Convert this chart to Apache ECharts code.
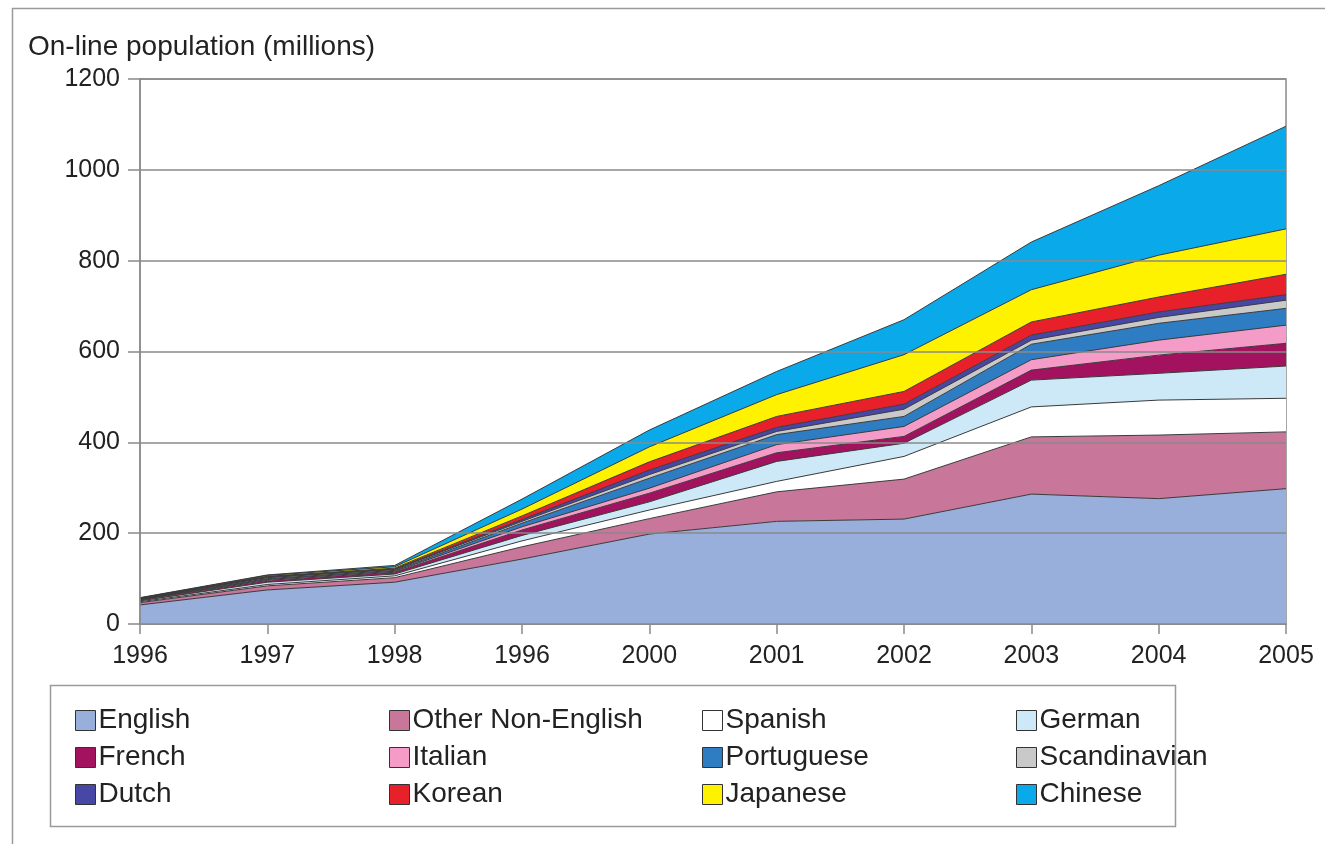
<!DOCTYPE html>
<html>
<head>
<meta charset="utf-8">
<script src="https://cdn.jsdelivr.net/npm/echarts@6/dist/echarts.min.js"></script>
<style>
html,body{margin:0;padding:0;background:#fff;}
#chart{width:1325px;height:844px;}
</style>
</head>
<body>
<div id="chart"></div>
<script>
// Category labels (as printed in the source, including the repeated "1996")
const years = ['1996','1997','1998','1996','2000','2001','2002','2003','2004','2005'];
const yTicks = [0, 200, 400, 600, 800, 1000, 1200];

// Online population by language (millions), stacked
const english       = [42, 75, 92, 143, 198, 226, 231, 286, 276, 298];
const otherNonEng   = [5, 9, 10, 27, 34, 65, 88, 126, 140, 125];
const spanish       = [2, 3, 4, 13, 19, 23, 50, 66, 77, 74];
const german        = [2, 5, 4, 12, 18, 44, 29, 59, 59, 71];
const french        = [2, 4, 4, 12, 19, 19, 15, 22, 40, 50];
const italian       = [1, 2, 2, 7, 11, 18, 22, 23, 33, 40];
const portuguese    = [1, 2, 2, 8, 22, 22, 22, 34, 37, 37];
const scandinavian  = [1, 2, 2, 4, 8, 7, 16, 9, 13, 18];
const dutch         = [0.5, 2, 1, 4, 10, 9, 11, 11, 12, 12];
const korean        = [0.5, 1, 2, 8, 18, 24, 28, 29, 33, 45];
const japanese      = [0.5, 2, 3, 15, 33, 48, 81, 71, 92, 100];
const chinese       = [0.5, 1, 3, 22, 37, 51, 77, 105, 153, 226];

const seriesNames = ['English','Other Non-English','Spanish','German','French','Italian','Portuguese','Scandinavian','Dutch','Korean','Japanese','Chinese'];
const seriesData = [english, otherNonEng, spanish, german, french, italian, portuguese, scandinavian, dutch, korean, japanese, chinese];
const seriesColors = ['#98aedb','#c87699','#ffffff','#cde9f8','#a3125e','#f49bc8','#2e7dc3','#c9c9c9','#4747a6','#e8202a','#fff200','#0aa9e9'];

const FONT = "'Liberation Sans', Arial, sans-serif";
const chart = echarts.init(document.getElementById('chart'));

const series = seriesNames.map((name, i) => ({
  name: name,
  type: 'line',
  stack: 'total',
  data: seriesData[i],
  symbol: 'none',
  smooth: false,
  z: 2,
  itemStyle: { color: seriesColors[i] },
  lineStyle: { color: '#3a3a3a', width: 1 },
  areaStyle: { color: seriesColors[i], opacity: 1 },
  emphasis: { disabled: true }
}));

function legendCol(names, left) {
  return {
    data: names,
    orient: 'vertical',
    left: left,
    top: 701,
    icon: 'rect',
    itemWidth: 20,
    itemHeight: 20,
    itemGap: 8,
    selectedMode: false,
    textStyle: { fontFamily: FONT, fontSize: 28, color: '#222', lineHeight: 29, padding: [0,0,0,-2] },
    itemStyle: { borderColor: '#333', borderWidth: 1 }
  };
}

chart.setOption({
  animation: false,
  backgroundColor: '#fff',
  title: {
    text: 'On-line population (millions)',
    left: 23,
    top: 28,
    textStyle: { fontFamily: FONT, fontSize: 28, fontWeight: 'normal', color: '#222' }
  },
  grid: {
    left: 140, right: 39, top: 79, bottom: 220,
    show: true, borderColor: '#8a8a8a', borderWidth: 1.5, backgroundColor: 'transparent'
  },
  legend: [
    legendCol(['English','French','Dutch'], 70),
    legendCol(['Other Non-English','Italian','Korean'], 384),
    legendCol(['Spanish','Portuguese','Japanese'], 697),
    legendCol(['German','Scandinavian','Chinese'], 1011)
  ],
  xAxis: {
    type: 'category',
    data: years,
    boundaryGap: false,
    axisLine: { show: true, lineStyle: { color: '#8a8a8a', width: 1.5 } },
    axisTick: { show: true, length: 10, alignWithLabel: true, lineStyle: { color: '#8a8a8a', width: 1.5 } },
    axisLabel: { interval: 0, fontFamily: FONT, fontSize: 25, color: '#222', margin: 20 },
    splitLine: { show: false }
  },
  yAxis: {
    type: 'value',
    min: yTicks[0],
    max: yTicks[yTicks.length - 1],
    interval: 200,
    z: 5,
    axisLine: { show: true, lineStyle: { color: '#8a8a8a', width: 1.5 } },
    axisTick: { show: true, length: 12, lineStyle: { color: '#8a8a8a', width: 1.5 } },
    axisLabel: { fontFamily: FONT, fontSize: 25, color: '#222', margin: 20, formatter: v => String(v) },
    splitLine: { show: true, lineStyle: { color: '#8a8a8a', width: 1.5 } }
  },
  graphic: [
    { type: 'rect', left: 10, top: 6, shape: { width: 1340, height: 860 }, style: { fill: 'none', stroke: '#9a9a9a', lineWidth: 1.5 }, silent: true, z: -10 },
    { type: 'rect', left: 48, top: 683, shape: { width: 1125, height: 141 }, style: { fill: 'none', stroke: '#9a9a9a', lineWidth: 1.5 }, silent: true }
  ],
  series: series
});
</script>
</body>
</html>
